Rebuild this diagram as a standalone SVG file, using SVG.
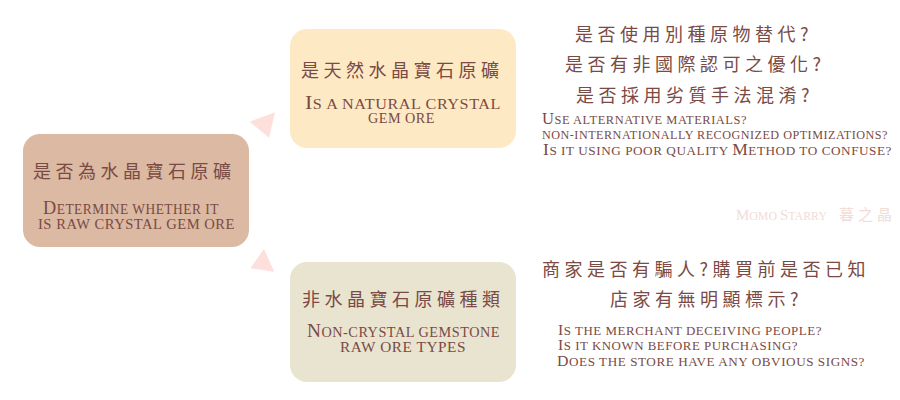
<svg xmlns="http://www.w3.org/2000/svg" width="900" height="400" viewBox="0 0 900 400">
<style>
.cjk{font-family:"Noto Sans CJK TC","Noto Sans CJK SC",sans-serif;font-size:18px;letter-spacing:4.5px;fill:#7a4a44}
.en{font-family:"Liberation Serif",serif;text-transform:uppercase;letter-spacing:0.5px;fill:#7a4a44}
.big{font-size:14px}
.big .c{font-size:19px}
.sm{font-size:12px}
.sm .c{font-size:16px}
.sm .c2{font-size:14.5px}
.tri{fill:#fde0dc}
.wm{fill:#f1dcd8}
.wmen{font-size:12px;letter-spacing:0}
.wmen .c{font-size:15px}
</style>
<rect width="900" height="400" fill="#ffffff"/>
<g id="connectors">
<polygon class="tri" points="249.7,121.7 275,112.3 269,137.7"/>
<polygon class="tri" points="264,249 250.3,268.3 274.3,271.7"/>
</g>
<g id="root">
<rect x="23" y="134" width="226" height="113" rx="17" fill="#dbb9a2"/>
<text class="cjk" x="33" y="177.5">是否為水晶寶石原礦</text>
<text class="en big" x="43" y="214" textLength="176" lengthAdjust="spacingAndGlyphs"><tspan class="c">D</tspan>etermine whether it</text>
<text class="en big" x="38" y="229" textLength="197" lengthAdjust="spacingAndGlyphs">is raw crystal gem ore</text>
</g>
<g id="natural">
<rect x="290" y="29" width="226" height="119" rx="17" fill="#fee9c5"/>
<text class="cjk" x="301" y="76.5">是天然水晶寶石原礦</text>
<text class="en big" x="305" y="109" textLength="196" lengthAdjust="spacingAndGlyphs"><tspan class="c">I</tspan>s a natural crystal</text>
<text class="en big" x="368" y="123" textLength="67" lengthAdjust="spacingAndGlyphs">gem ore</text>
</g>
<g id="natural-questions">
<text class="cjk" x="575" y="40.5">是否使用別種原物替代?</text>
<text class="cjk" x="565" y="70.5">是否有非國際認可之優化?</text>
<text class="cjk" x="576" y="101.5">是否採用劣質手法混淆?</text>
<text class="en sm" x="542" y="124" textLength="205" lengthAdjust="spacingAndGlyphs"><tspan class="c">U</tspan>se alternative materials?</text>
<text class="en sm" x="542" y="139" textLength="346" lengthAdjust="spacingAndGlyphs">non-internationally recognized optimizations?</text>
<text class="en sm" x="543" y="155" textLength="349" lengthAdjust="spacingAndGlyphs"><tspan class="c">I</tspan>s it using poor quality <tspan class="c">M</tspan>ethod to confuse?</text>
</g>
<g id="noncrystal">
<rect x="290" y="262" width="226" height="120" rx="17" fill="#e8e4d0"/>
<text class="cjk" x="302" y="305.5">非水晶寶石原礦種類</text>
<text class="en big" x="307" y="337" textLength="193" lengthAdjust="spacingAndGlyphs"><tspan class="c">N</tspan>on-crystal gemstone</text>
<text class="en big" x="340" y="352" textLength="126" lengthAdjust="spacingAndGlyphs">raw ore types</text>
</g>
<g id="noncrystal-questions">
<text class="cjk" x="542" y="276">商家是否有騙人?購買前是否已知</text>
<text class="cjk" x="610" y="305.5">店家有無明顯標示?</text>
<text class="en sm" x="558" y="334.5" textLength="264" lengthAdjust="spacingAndGlyphs"><tspan class="c2">I</tspan>s the merchant deceiving people?</text>
<text class="en sm" x="558" y="350" textLength="240" lengthAdjust="spacingAndGlyphs"><tspan class="c2">I</tspan>s it known before purchasing?</text>
<text class="en sm" x="557" y="365.5" textLength="308" lengthAdjust="spacingAndGlyphs"><tspan class="c2">D</tspan>oes the store have any obvious signs?</text>
</g>
<g id="watermark">
<text class="en wm wmen" x="736" y="220" textLength="91" lengthAdjust="spacingAndGlyphs"><tspan class="c">M</tspan>omo <tspan class="c">S</tspan>tarry</text>
<text class="wm" x="839" y="219.5" font-family="Noto Sans CJK TC, sans-serif" font-size="15" letter-spacing="4">暮之晶</text>
</g>
</svg>
